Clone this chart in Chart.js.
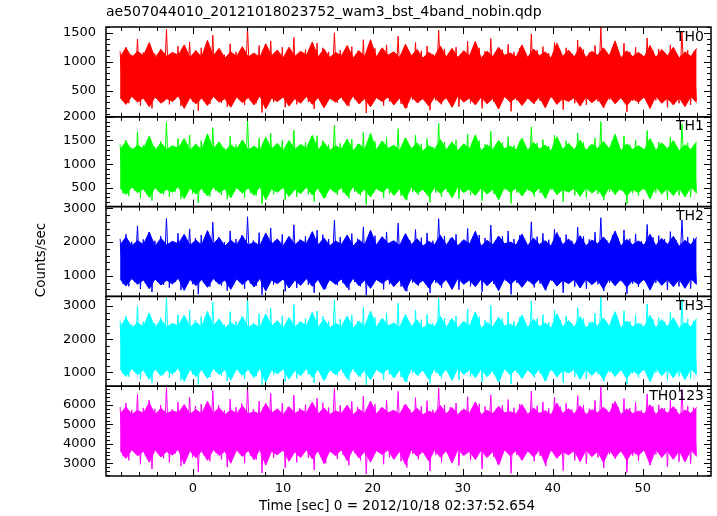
<!DOCTYPE html>
<html>
<head>
<meta charset="utf-8">
<script src="https://cdn.jsdelivr.net/npm/chart.js@4.4.0/dist/chart.umd.min.js"></script>
<style>
  html, body { margin: 0; padding: 0; background: #fff; }
  #wrap { width: 717px; height: 516px; }
</style>
</head>
<body>
<div id="wrap"><canvas id="lc" width="717" height="516"></canvas></div>
<script>
const fileName = 'ae507044010_20121018023752_wam3_bst_4band_nobin.qdp';
const xTitle = 'Time [sec] 0 = 2012/10/18 02:37:52.654';
const yTitle = 'Counts/sec';
const bands = ['TH0', 'TH1', 'TH2', 'TH3', 'TH0123'];
const xTicks = [0, 10, 20, 30, 40, 50];

const binStart = -8.1;
const binStep = 0.322;
// dense core envelope (100 per band)
const coreStart = -8.1;
const coreStep = 0.6475;

const th0 = [
  1180, 320, 1250, 280, 1120, 360, 1390, 240, 1160, 340, 1290, 190, 1140, 370, 1220, 300, 1560, 260, 1130, 350,
  1270, 230, 1110, 380, 1340, 310, 1190, 150, 1240, 330, 1150, 270, 1460, 360, 1200, 290, 1120, 220, 1310, 340,
  1170, 380, 1230, 250, 1600, 320, 1140, 280, 1280, 120, 1190, 350, 1360, 300, 1130, 370, 1250, 210, 1180, 330,
  1420, 260, 1150, 360, 1210, 300, 1110, 180, 1320, 340, 1240, 250, 1170, 380, 1500, 290, 1200, 330, 1130, 230,
  1260, 350, 1180, 280, 1380, 110, 1140, 320, 1230, 370, 1160, 240, 1290, 310, 1120, 360, 1440, 270, 1210, 200,
  1150, 340, 1330, 290, 1190, 380, 1270, 160, 1130, 330, 1540, 260, 1220, 350, 1170, 300, 1250, 220, 1110, 370,
  1350, 280, 1160, 340, 1240, 190, 1180, 360, 1400, 310, 1140, 250, 1210, 380, 1300, 140, 1170, 330, 1230, 290,
  1120, 360, 1480, 270, 1200, 320, 1260, 230, 1150, 380, 1330, 300, 1190, 170, 1240, 350, 1130, 280, 1370, 330,
  1210, 250, 1160, 370, 1280, 310, 1590, 200, 1140, 340, 1230, 290, 1180, 360, 1320, 130, 1170, 320, 1250, 270,
  1130, 380, 1410, 240, 1190, 330, 1220, 300, 1160, 210, 1290, 350, 1140, 280, 1520, 360, 1200, 250, 1170, 320
];
const th0Hi = [
  1080, 1240, 1070, 1180, 1100, 1330, 1060, 1210, 1090, 1160, 1110, 1290, 1070, 1190, 1080, 1370, 1100, 1230, 1060, 1170,
  1090, 1260, 1080, 1150, 1070, 1310, 1100, 1200, 1060, 1250, 1090, 1180, 1110, 1340, 1080, 1220, 1070, 1160, 1100, 1280,
  1060, 1190, 1090, 1380, 1080, 1240, 1110, 1170, 1070, 1300, 1100, 1210, 1060, 1160, 1090, 1270, 1080, 1230, 1070, 1190,
  1100, 1350, 1060, 1180, 1090, 1250, 1110, 1150, 1080, 1290, 1070, 1220, 1100, 1170, 1060, 1320, 1090, 1200, 1080, 1260,
  1070, 1180, 1110, 1240, 1100, 1360, 1060, 1190, 1090, 1160, 1080, 1280, 1070, 1210, 1100, 1250, 1060, 1170, 1090, 1230
];
const th0Lo = [
  380, 260, 400, 300, 370, 220, 390, 280, 360, 310, 410, 190, 380, 270, 370, 240, 400, 300, 360, 210,
  390, 290, 380, 250, 410, 180, 370, 310, 390, 230, 360, 280, 400, 260, 380, 200, 370, 300, 390, 240,
  410, 270, 360, 220, 380, 310, 390, 250, 370, 190, 400, 290, 360, 230, 390, 280, 380, 210, 410, 300,
  370, 250, 390, 270, 360, 180, 400, 300, 380, 240, 370, 280, 390, 200, 410, 260, 360, 310, 380, 230,
  390, 290, 370, 210, 400, 270, 380, 240, 360, 300, 390, 190, 410, 280, 370, 250, 380, 220, 400, 290
];

const th1 = [
  1420, 380, 1510, 330, 1350, 440, 1690, 290, 1400, 410, 1560, 230, 1370, 450, 1480, 360, 1880, 310, 1360, 420,
  1540, 270, 1330, 460, 1620, 370, 1430, 180, 1500, 400, 1390, 320, 1770, 440, 1450, 350, 1340, 260, 1590, 410,
  1410, 460, 1490, 300, 1930, 390, 1370, 340, 1550, 160, 1430, 420, 1650, 360, 1350, 450, 1510, 250, 1420, 400,
  1720, 310, 1380, 440, 1460, 360, 1330, 210, 1600, 410, 1500, 300, 1410, 460, 1820, 350, 1440, 400, 1360, 280,
  1530, 420, 1420, 340, 1670, 150, 1370, 390, 1480, 450, 1390, 290, 1560, 370, 1340, 440, 1750, 330, 1460, 240,
  1380, 410, 1610, 350, 1430, 460, 1540, 200, 1360, 400, 1860, 310, 1470, 420, 1410, 360, 1510, 270, 1330, 450,
  1640, 340, 1390, 410, 1500, 230, 1420, 440, 1700, 370, 1370, 300, 1460, 460, 1580, 170, 1400, 400, 1490, 350,
  1350, 440, 1790, 320, 1450, 390, 1520, 280, 1380, 460, 1610, 360, 1430, 210, 1500, 420, 1360, 340, 1660, 400,
  1460, 300, 1390, 450, 1550, 370, 1900, 240, 1370, 410, 1490, 350, 1420, 440, 1600, 160, 1410, 390, 1510, 330,
  1360, 460, 1710, 290, 1440, 400, 1470, 360, 1390, 250, 1570, 420, 1370, 340, 1840, 440, 1450, 300, 1400, 390
];
const th1Hi = [
  1300, 1480, 1290, 1400, 1320, 1590, 1280, 1450, 1310, 1390, 1330, 1540, 1290, 1420, 1300, 1640, 1320, 1470, 1280, 1410,
  1310, 1510, 1300, 1380, 1290, 1570, 1320, 1440, 1280, 1500, 1310, 1420, 1330, 1610, 1300, 1460, 1290, 1390, 1320, 1530,
  1280, 1430, 1310, 1650, 1300, 1490, 1330, 1400, 1290, 1560, 1320, 1450, 1280, 1390, 1310, 1520, 1300, 1470, 1290, 1430,
  1320, 1620, 1280, 1410, 1310, 1500, 1330, 1380, 1300, 1550, 1290, 1460, 1320, 1400, 1280, 1580, 1310, 1440, 1300, 1510,
  1290, 1420, 1330, 1480, 1320, 1630, 1280, 1430, 1310, 1390, 1300, 1540, 1290, 1450, 1320, 1500, 1280, 1410, 1310, 1470
];
const th1Lo = [
  500, 360, 520, 400, 480, 300, 510, 380, 470, 410, 530, 270, 500, 370, 490, 330, 520, 400, 480, 290,
  510, 390, 500, 340, 530, 250, 480, 410, 510, 320, 470, 380, 520, 350, 500, 280, 490, 400, 510, 330,
  530, 370, 470, 310, 500, 410, 510, 340, 480, 260, 520, 390, 470, 320, 510, 380, 500, 290, 530, 400,
  480, 340, 510, 370, 470, 250, 520, 400, 500, 330, 490, 380, 510, 280, 530, 360, 470, 410, 500, 320,
  510, 390, 480, 300, 520, 370, 500, 330, 470, 400, 510, 270, 530, 380, 490, 340, 500, 310, 520, 390
];

const th2 = [
  2100, 760, 2230, 690, 2010, 840, 2480, 610, 2080, 800, 2300, 520, 2040, 850, 2180, 730, 2700, 650, 2030, 820,
  2260, 580, 1990, 860, 2390, 750, 2120, 460, 2210, 790, 2060, 680, 2590, 840, 2140, 710, 2000, 560, 2330, 800,
  2090, 860, 2200, 620, 2750, 770, 2050, 700, 2280, 440, 2130, 820, 2420, 740, 2020, 850, 2230, 540, 2100, 780,
  2510, 640, 2070, 840, 2170, 740, 1990, 500, 2350, 800, 2220, 620, 2090, 860, 2640, 720, 2150, 780, 2030, 580,
  2250, 820, 2100, 690, 2450, 430, 2050, 760, 2190, 850, 2080, 600, 2300, 750, 2010, 840, 2560, 680, 2160, 540,
  2060, 800, 2370, 710, 2130, 860, 2270, 490, 2040, 790, 2690, 640, 2180, 820, 2110, 730, 2230, 590, 2000, 850,
  2400, 690, 2080, 800, 2210, 530, 2120, 840, 2500, 760, 2050, 630, 2170, 860, 2330, 450, 2090, 790, 2200, 710,
  2020, 840, 2600, 660, 2160, 770, 2260, 570, 2070, 860, 2380, 740, 2130, 500, 2220, 820, 2040, 680, 2440, 780,
  2170, 620, 2080, 850, 2290, 750, 2720, 550, 2060, 800, 2210, 720, 2120, 840, 2360, 470, 2100, 770, 2240, 670,
  2030, 860, 2520, 600, 2140, 790, 2190, 740, 2090, 580, 2310, 820, 2050, 690, 2660, 840, 2150, 620, 2110, 770
];
const th2Hi = [
  1910, 2150, 1890, 2040, 1930, 2290, 1880, 2110, 1920, 2020, 1950, 2230, 1900, 2060, 1910, 2340, 1940, 2130, 1880, 2050,
  1920, 2190, 1910, 2000, 1890, 2270, 1940, 2090, 1880, 2170, 1920, 2060, 1950, 2310, 1910, 2120, 1890, 2030, 1930, 2210,
  1880, 2070, 1920, 2350, 1910, 2160, 1950, 2040, 1900, 2250, 1930, 2100, 1880, 2020, 1920, 2200, 1910, 2140, 1890, 2070,
  1940, 2320, 1880, 2050, 1920, 2180, 1950, 2000, 1910, 2240, 1890, 2120, 1930, 2040, 1880, 2280, 1920, 2090, 1910, 2190,
  1890, 2060, 1950, 2150, 1930, 2330, 1880, 2080, 1920, 2030, 1910, 2230, 1890, 2110, 1930, 2170, 1880, 2050, 1920, 2140
];
const th2Lo = [
  900, 700, 920, 750, 880, 620, 910, 730, 870, 760, 930, 570, 900, 710, 890, 660, 920, 750, 880, 600,
  910, 740, 900, 670, 930, 550, 880, 770, 910, 640, 870, 720, 920, 690, 900, 590, 890, 750, 910, 650,
  930, 710, 870, 630, 900, 780, 910, 680, 880, 560, 920, 740, 870, 640, 910, 720, 900, 600, 930, 750,
  880, 680, 910, 710, 870, 560, 920, 750, 900, 660, 890, 730, 910, 590, 930, 700, 870, 770, 900, 640,
  910, 740, 880, 610, 920, 710, 900, 660, 870, 750, 910, 580, 930, 720, 890, 680, 900, 630, 920, 740
];

const th3 = [
  2560, 950, 2700, 870, 2450, 1040, 3000, 790, 2530, 1000, 2790, 700, 2480, 1060, 2650, 920, 3250, 840, 2470, 1020,
  2740, 760, 2420, 1070, 2880, 940, 2580, 640, 2680, 990, 2510, 860, 3120, 1040, 2600, 900, 2440, 740, 2830, 1000,
  2540, 1060, 2670, 800, 3280, 970, 2490, 890, 2770, 630, 2590, 1020, 2930, 930, 2460, 1050, 2700, 720, 2550, 980,
  3040, 820, 2510, 1040, 2630, 930, 2420, 680, 2850, 1000, 2690, 800, 2540, 1070, 3180, 910, 2610, 980, 2470, 760,
  2730, 1020, 2550, 870, 2960, 620, 2490, 950, 2660, 1050, 2530, 780, 2790, 940, 2440, 1040, 3090, 860, 2620, 720,
  2500, 1000, 2870, 900, 2590, 1070, 2750, 670, 2480, 990, 3230, 820, 2640, 1020, 2570, 920, 2700, 770, 2430, 1050,
  2910, 870, 2520, 1000, 2680, 710, 2570, 1040, 3020, 950, 2490, 810, 2630, 1070, 2820, 650, 2540, 990, 2670, 900,
  2460, 1040, 3150, 850, 2620, 960, 2740, 750, 2510, 1060, 2880, 930, 2580, 690, 2690, 1020, 2480, 870, 2950, 980,
  2630, 800, 2520, 1050, 2780, 940, 3270, 730, 2500, 1000, 2680, 910, 2570, 1040, 2860, 640, 2550, 970, 2720, 850,
  2470, 1060, 3060, 780, 2600, 990, 2650, 930, 2530, 760, 2810, 1020, 2490, 880, 3200, 1040, 2610, 800, 2560, 960
];
const th3Hi = [
  2360, 2640, 2340, 2490, 2380, 2790, 2330, 2590, 2370, 2470, 2400, 2720, 2350, 2520, 2360, 2840, 2390, 2610, 2330, 2500,
  2370, 2680, 2360, 2450, 2340, 2760, 2390, 2560, 2330, 2650, 2370, 2520, 2400, 2810, 2360, 2600, 2340, 2480, 2380, 2700,
  2330, 2540, 2370, 2850, 2360, 2630, 2400, 2490, 2350, 2740, 2380, 2580, 2330, 2470, 2370, 2690, 2360, 2620, 2340, 2540,
  2390, 2820, 2330, 2500, 2370, 2660, 2400, 2450, 2360, 2730, 2340, 2600, 2380, 2490, 2330, 2770, 2370, 2560, 2360, 2680,
  2340, 2520, 2400, 2640, 2380, 2830, 2330, 2550, 2370, 2480, 2360, 2720, 2340, 2590, 2380, 2650, 2330, 2500, 2370, 2620
];
const th3Lo = [
  1100, 880, 1120, 930, 1080, 790, 1110, 900, 1070, 950, 1140, 730, 1100, 870, 1090, 820, 1120, 940, 1080, 770,
  1110, 910, 1100, 840, 1130, 700, 1080, 960, 1110, 800, 1060, 900, 1120, 850, 1100, 750, 1090, 930, 1110, 810,
  1140, 880, 1060, 780, 1100, 970, 1110, 830, 1080, 710, 1120, 920, 1070, 800, 1110, 890, 1100, 760, 1140, 940,
  1080, 840, 1110, 870, 1060, 700, 1120, 930, 1100, 820, 1090, 900, 1110, 740, 1130, 860, 1070, 980, 1100, 790,
  1110, 910, 1080, 770, 1120, 880, 1100, 820, 1060, 940, 1110, 720, 1140, 900, 1090, 840, 1100, 780, 1120, 920
];

const th0123 = [
  5900, 3350, 6100, 3150, 5750, 3550, 6550, 2950, 5850, 3450, 6250, 2700, 5800, 3600, 6000, 3250, 6900, 3050, 5780, 3500,
  6150, 2850, 5700, 3620, 6400, 3300, 5950, 2550, 6050, 3400, 5820, 3100, 6750, 3570, 5980, 3200, 5720, 2800, 6300, 3450,
  5880, 3620, 6080, 3000, 6950, 3380, 5790, 3180, 6200, 2500, 5960, 3530, 6600, 3280, 5740, 3600, 6100, 2750, 5900, 3420,
  6500, 3050, 5830, 3560, 6020, 3280, 5700, 2650, 6350, 3450, 6120, 3000, 5870, 3630, 6850, 3220, 5990, 3420, 5770, 2900,
  6180, 3520, 5900, 3150, 6450, 2450, 5800, 3350, 6040, 3600, 5850, 2950, 6250, 3300, 5730, 3580, 6700, 3100, 5970, 2780,
  5780, 3480, 6380, 3200, 5940, 3630, 6220, 2600, 5760, 3420, 6880, 3050, 6000, 3540, 5890, 3250, 6100, 2880, 5710, 3590,
  6420, 3150, 5840, 3480, 6060, 2700, 5920, 3600, 6520, 3330, 5790, 3000, 5980, 3630, 6280, 2480, 5860, 3420, 6050, 3200,
  5750, 3580, 6700, 3100, 5960, 3380, 6150, 2850, 5820, 3620, 6400, 3270, 5910, 2620, 6080, 3520, 5770, 3150, 6480, 3440,
  5990, 2980, 5810, 3580, 6230, 3300, 6920, 2760, 5780, 3460, 6070, 3230, 5880, 3570, 6330, 2520, 5850, 3390, 6140, 3120,
  5740, 3620, 6560, 2900, 5930, 3450, 6010, 3280, 5830, 2820, 6260, 3530, 5790, 3080, 6820, 3600, 5950, 2980, 5870, 3400
];
const th0123Hi = [
  5540, 5900, 5510, 5720, 5570, 6120, 5500, 5820, 5560, 5690, 5600, 6020, 5520, 5770, 5540, 6190, 5580, 5860, 5500, 5740,
  5560, 5950, 5530, 5660, 5510, 6080, 5580, 5800, 5500, 5910, 5560, 5750, 5600, 6150, 5540, 5850, 5510, 5700, 5570, 5990,
  5500, 5780, 5560, 6200, 5540, 5880, 5600, 5720, 5520, 6050, 5570, 5830, 5500, 5680, 5560, 5970, 5540, 5870, 5510, 5790,
  5580, 6160, 5500, 5730, 5560, 5930, 5600, 5650, 5540, 6030, 5510, 5850, 5570, 5710, 5500, 6100, 5560, 5810, 5540, 5960,
  5510, 5760, 5600, 5890, 5570, 6180, 5500, 5800, 5560, 5690, 5540, 6010, 5510, 5840, 5570, 5920, 5500, 5740, 5560, 5880
];
const th0123Lo = [
  3660, 3250, 3700, 3380, 3620, 3050, 3690, 3320, 3610, 3420, 3720, 2950, 3660, 3280, 3640, 3150, 3700, 3400, 3620, 3000,
  3690, 3350, 3660, 3180, 3720, 2900, 3620, 3440, 3690, 3100, 3600, 3300, 3700, 3220, 3660, 2980, 3640, 3390, 3690, 3130,
  3720, 3270, 3600, 3060, 3660, 3450, 3690, 3200, 3620, 2920, 3700, 3360, 3600, 3110, 3690, 3310, 3660, 3010, 3720, 3400,
  3620, 3190, 3690, 3290, 3600, 2900, 3700, 3380, 3660, 3150, 3640, 3320, 3690, 2970, 3720, 3250, 3600, 3430, 3660, 3080,
  3690, 3340, 3620, 3030, 3700, 3280, 3660, 3160, 3600, 3410, 3690, 2940, 3720, 3310, 3640, 3200, 3660, 3070, 3700, 3350
];

const spikes = [th0, th1, th2, th3, th0123];
const coreHi = [th0Hi, th1Hi, th2Hi, th3Hi, th0123Hi];
const coreLo = [th0Lo, th1Lo, th2Lo, th3Lo, th0123Lo];
const binTimes = th0.map((_, i) => binStart + i * binStep);
const coreTimes = th0Hi.map((_, i) => coreStart + i * coreStep);

// one y axis per band, stacked top to bottom
const panels = [
  { id: 'y0', color: '#ff0000', min: 45,   max: 1600, major: 500,  minor: 100 },
  { id: 'y1', color: '#00ff00', min: 105,  max: 2000, major: 500,  minor: 100 },
  { id: 'y2', color: '#0000ff', min: 392,  max: 3050, major: 1000, minor: 200 },
  { id: 'y3', color: '#00ffff', min: 586,  max: 3289, major: 1000, minor: 200 },
  { id: 'y4', color: '#ff00ff', min: 2343, max: 6968, major: 1000, minor: 200 }
];

Chart.defaults.font.family = 'DejaVu Sans';
Chart.defaults.color = '#000';

const scales = {
  x: {
    type: 'linear',
    min: -9.67,
    max: 57.6,
    grid: { display: false, drawTicks: false },
    border: { display: false },
    ticks: { display: false },
    afterFit: s => { s.height = 40; }
  }
};
// reversed so the first band ends up on top
panels.slice().reverse().forEach(p => {
  scales[p.id] = {
    type: 'linear',
    position: 'left',
    stack: 'bands',
    stackWeight: 1,
    min: p.min,
    max: p.max,
    grid: { display: false, drawTicks: false },
    border: { display: false },
    ticks: { display: false },
    afterFit: s => { s.width = 106; }
  };
});

const datasets = [];
panels.forEach((p, k) => {
  datasets.push({
    label: bands[k],
    yAxisID: p.id,
    data: spikes[k].map((v, i) => ({ x: binTimes[i], y: v })),
    borderColor: p.color,
    borderWidth: 1,
    pointRadius: 0,
    tension: 0,
    fill: false,
    order: 1
  });
});
panels.forEach((p, k) => {
  datasets.push({
    label: bands[k] + ' hi',
    yAxisID: p.id,
    data: coreHi[k].map((v, i) => ({ x: coreTimes[i], y: v })),
    borderColor: p.color,
    backgroundColor: p.color,
    borderWidth: 1,
    pointRadius: 0,
    tension: 0,
    fill: '+1',
    order: 2
  });
  datasets.push({
    label: bands[k] + ' lo',
    yAxisID: p.id,
    data: coreLo[k].map((v, i) => ({ x: coreTimes[i], y: v })),
    borderColor: p.color,
    borderWidth: 1,
    pointRadius: 0,
    tension: 0,
    fill: false,
    order: 2
  });
});

function seg(ctx, x1, y1, x2, y2) {
  ctx.beginPath();
  ctx.moveTo(x1, y1);
  ctx.lineTo(x2, y2);
  ctx.stroke();
}

// frames, inward ticks and all labels, in the qdp style
const panelFrame = {
  id: 'panelFrame',
  afterDatasetsDraw(chart) {
    const ctx = chart.ctx;
    const area = chart.chartArea;
    const xs = chart.scales.x;
    ctx.save();
    ctx.strokeStyle = '#000';
    ctx.fillStyle = '#000';
    panels.forEach((p, k) => {
      const ys = chart.scales[p.id];
      const top = ys.top, bottom = ys.bottom;
      ctx.lineWidth = 1;
      for (let v = Math.ceil(xs.min / 2) * 2; v <= xs.max; v += 2) {
        const px = Math.round(xs.getPixelForValue(v)) + 0.5;
        const len = v % 10 === 0 ? 7 : 4;
        seg(ctx, px, top, px, top + len);
        seg(ctx, px, bottom, px, bottom - len);
      }
      for (let v = Math.ceil(ys.min / p.minor) * p.minor; v <= ys.max; v += p.minor) {
        const py = Math.round(ys.getPixelForValue(v)) + 0.5;
        const len = v % p.major === 0 ? 7 : 4;
        seg(ctx, area.left, py, area.left + len, py);
        seg(ctx, area.right, py, area.right - len, py);
      }
      ctx.lineWidth = 1.5;
      ctx.strokeRect(area.left, top, area.right - area.left, bottom - top);

      ctx.font = '13px "DejaVu Sans"';
      ctx.textAlign = 'right';
      ctx.textBaseline = 'middle';
      for (let v = Math.ceil(ys.min / p.major) * p.major; v <= ys.max; v += p.major) {
        ctx.fillText(String(v), area.left - 10, ys.getPixelForValue(v));
      }

      ctx.font = '14px "DejaVu Sans"';
      ctx.fillText(bands[k], area.right - 7, top + 10);
    });

    ctx.font = '13px "DejaVu Sans"';
    ctx.textAlign = 'center';
    ctx.textBaseline = 'middle';
    xTicks.forEach(v => ctx.fillText(String(v), xs.getPixelForValue(v), 489));

    ctx.font = '14px "DejaVu Sans"';
    ctx.textAlign = 'left';
    ctx.fillText(fileName, area.left, 12);

    ctx.font = '13.5px "DejaVu Sans"';
    ctx.textAlign = 'center';
    ctx.fillText(xTitle, 397, 506);

    ctx.translate(41, 260);
    ctx.rotate(-Math.PI / 2);
    ctx.fillText(yTitle, 0, 0);
    ctx.restore();
  }
};

new Chart(document.getElementById('lc'), {
  type: 'line',
  data: { datasets: datasets },
  options: {
    responsive: false,
    animation: false,
    layout: { padding: { top: 27, right: 6, left: 0, bottom: 0 } },
    plugins: {
      legend: { display: false },
      title: { display: false },
      tooltip: { enabled: false }
    },
    scales: scales
  },
  plugins: [panelFrame]
});
</script>
</body>
</html>
